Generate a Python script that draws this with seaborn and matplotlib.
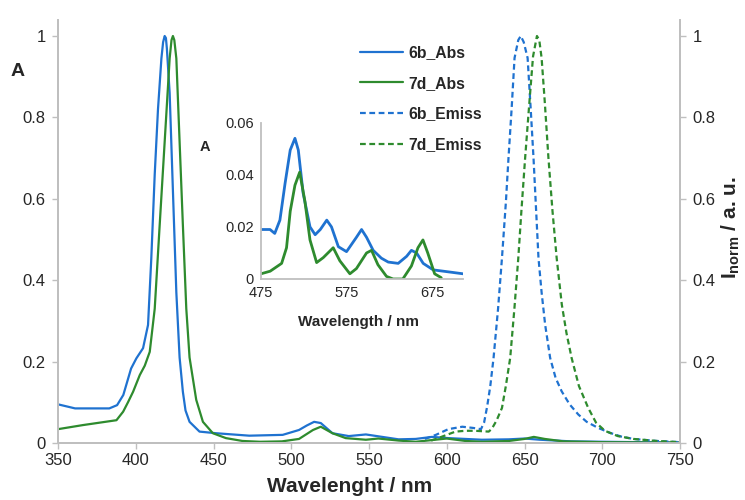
import matplotlib
matplotlib.use("Agg")
import matplotlib.pyplot as plt
import seaborn as sns
import pandas as pd

# ---------------- data ----------------
abs_6b_x = [350, 361, 383, 388, 392, 397, 400.4, 404.7, 407.9, 410, 412.2, 414.3, 416.5, 417.6,
            418.6, 419.4, 420, 421.8, 423.9, 426.1, 428.2, 430.3, 432, 434.6, 441, 451.7, 473,
            494.5, 505, 510, 514.7, 519, 526.5, 537, 548, 558.5, 569, 580, 590.5, 601, 622.6,
            640, 650, 660, 680, 700, 725, 750]
abs_6b_y = [0.095, 0.085, 0.085, 0.093, 0.118, 0.183, 0.208, 0.233, 0.29, 0.454, 0.66, 0.82, 0.945, 0.985,
            1.0, 0.995, 0.97, 0.86, 0.62, 0.37, 0.21, 0.126, 0.08, 0.052, 0.028, 0.024, 0.018,
            0.02, 0.032, 0.043, 0.052, 0.049, 0.024, 0.017, 0.021, 0.015, 0.009, 0.01, 0.015, 0.012, 0.008,
            0.009, 0.011, 0.008, 0.004, 0.003, 0.002, 0.001]

abs_7d_x = [350, 366, 387.6, 391.9, 395, 398.3, 402.6, 405.8, 409, 412.2, 415.4, 418.6, 421.8, 423,
            423.9, 424.8, 426.1, 428.2, 430.3, 432.5, 434.6, 438.9, 443.2, 449.6, 458, 468.6, 480,
            494, 505, 514, 519, 526.5, 535, 548, 556, 569, 580, 590, 600, 612, 623, 640, 650, 656,
            663, 675, 700, 750]
abs_7d_y = [0.034, 0.044, 0.056, 0.077, 0.1, 0.126, 0.167, 0.19, 0.224, 0.33, 0.536, 0.74, 0.945, 0.99,
            1.0, 0.99, 0.945, 0.74, 0.536, 0.33, 0.21, 0.106, 0.052, 0.024, 0.012, 0.005, 0.003,
            0.004, 0.01, 0.032, 0.04, 0.024, 0.012, 0.008, 0.011, 0.006, 0.003, 0.007, 0.011, 0.005, 0.003,
            0.005, 0.01, 0.015, 0.01, 0.004, 0.002, 0.001]

em_6b_x = [586, 593, 601, 610, 617, 622, 624, 626, 628, 630.1, 633, 635.5, 638, 639.7, 641.7, 643.6,
           646, 647.6, 649.5, 652, 654, 655.8, 659, 661, 663.3, 666.5, 670, 673.9, 679, 684.6, 690,
           697.4, 705, 712, 720, 735, 750]
em_6b_y = [0.01, 0.02, 0.034, 0.04, 0.037, 0.034, 0.05, 0.09, 0.14, 0.209, 0.33, 0.454, 0.59, 0.70, 0.82, 0.946,
           0.99, 1.0, 0.985, 0.946, 0.82, 0.70, 0.454, 0.37, 0.29, 0.209, 0.16, 0.127, 0.095, 0.07, 0.052,
           0.037, 0.025, 0.016, 0.01, 0.005, 0.002]

em_7d_x = [590, 593, 600, 605.6, 612, 618.4, 627, 629, 632, 635.5, 638, 640.8, 643.5, 646, 648, 650.4,
           653, 655.5, 658, 659.5, 661, 663, 665.4, 668, 670.7, 674, 677, 680.3, 685, 691, 696,
           701.7, 710, 720, 735, 750]
em_7d_y = [0.006, 0.01, 0.02, 0.028, 0.03, 0.03, 0.028, 0.035, 0.055, 0.086, 0.14, 0.209, 0.33, 0.454, 0.57, 0.70,
           0.83, 0.95, 1.0, 0.99, 0.946, 0.84, 0.70, 0.57, 0.454, 0.34, 0.27, 0.209, 0.14, 0.086, 0.05,
           0.03, 0.017, 0.01, 0.005, 0.002]

inset_6b_x = [475, 485.5, 491, 497, 503, 509, 514.5, 518.4, 524, 532, 538, 544, 551.5, 557, 565, 574.5,
              586, 592, 597.8, 605.5, 615, 623, 634.6, 644.4, 650, 656, 663.7, 675.3, 687, 698.6, 710]
inset_6b_y = [0.019, 0.019, 0.0175, 0.0226, 0.0367, 0.0495, 0.054, 0.0495, 0.033, 0.020, 0.017, 0.019,
              0.0226, 0.020, 0.0124, 0.0105, 0.016, 0.019, 0.016, 0.011, 0.008, 0.0065, 0.006, 0.0087,
              0.011, 0.010, 0.006, 0.0035, 0.003, 0.0025, 0.002]

inset_7d_x = [475, 485.7, 499, 504.7, 509, 514.5, 520, 526, 532, 539.7, 547.4, 559, 566.7, 578.4, 586,
              597.8, 603.6, 611, 621, 628.7, 640, 650, 657.6, 663.4, 669, 677, 684.7]
inset_7d_y = [0.002, 0.003, 0.006, 0.012, 0.026, 0.036, 0.041, 0.03, 0.015, 0.0063, 0.0082, 0.012, 0.007,
              0.002, 0.004, 0.010, 0.011, 0.0055, 0.001, 0.0, 0.0, 0.005, 0.012, 0.015, 0.01, 0.002, 0.0005]

main_xticks = [350, 400, 450, 500, 550, 600, 650, 700, 750]
main_yticks = [0, 0.2, 0.4, 0.6, 0.8, 1]
main_ytick_labels = ["0", "0.2", "0.4", "0.6", "0.8", "1"]
inset_xticks = [475, 575, 675]
inset_yticks = [0, 0.02, 0.04, 0.06]
inset_ytick_labels = ["0", "0.02", "0.04", "0.06"]

# ---------------- style ----------------
sns.set_theme(style="white")
plt.rcParams["font.family"] = ["Liberation Sans", "DejaVu Sans"]
plt.rcParams["mathtext.fontset"] = "custom"
plt.rcParams["mathtext.rm"] = "Liberation Sans"
plt.rcParams["mathtext.bf"] = "Liberation Sans:bold"
plt.rcParams["mathtext.it"] = "Liberation Sans:italic"

BLUE = "#1f72d0"
GREEN = "#2e8b2e"
GREY = "#bfbfbf"
TXT = "#262626"

fig = plt.figure(figsize=(7.45, 5.0), dpi=100)
W, H = 745, 500
L, R, B, T = 58, 680, 443, 20
ax = fig.add_axes([L / W, 1 - B / H, (R - L) / W, (B - T) / H])
ytop = (B - T) / (B - 36)

df_a6 = pd.DataFrame({"wl": abs_6b_x, "v": abs_6b_y})
df_a7 = pd.DataFrame({"wl": abs_7d_x, "v": abs_7d_y})
df_e6 = pd.DataFrame({"wl": em_6b_x, "v": em_6b_y})
df_e7 = pd.DataFrame({"wl": em_7d_x, "v": em_7d_y})

sns.lineplot(data=df_a6, x="wl", y="v", ax=ax, color=BLUE, lw=1.6, label="6b_Abs")
sns.lineplot(data=df_a7, x="wl", y="v", ax=ax, color=GREEN, lw=1.6, label="7d_Abs")

ax2 = ax.twinx()
sns.lineplot(data=df_e6, x="wl", y="v", ax=ax2, color=BLUE, lw=1.6,
             linestyle=(0, (2.6, 1.6)), label="6b_Emiss")
sns.lineplot(data=df_e7, x="wl", y="v", ax=ax2, color=GREEN, lw=1.6,
             linestyle=(0, (2.6, 1.6)), label="7d_Emiss")

for a in (ax, ax2):
    a.set_xlim(350, 750)
    a.set_ylim(0, ytop)
    a.set_xlabel("")
    a.set_ylabel("")
    a.spines["top"].set_visible(False)
    for s in ("left", "right", "bottom"):
        a.spines[s].set_color(GREY)
        a.spines[s].set_linewidth(1.3)
    a.tick_params(colors=GREY, labelcolor=TXT, length=4, width=1, labelsize=12)

ax.set_xticks(main_xticks)
ax.set_xticklabels([str(t) for t in main_xticks])
ax.set_yticks(main_yticks)
ax.set_yticklabels(main_ytick_labels)
ax.tick_params(axis="x", bottom=True, direction="out", pad=3)
ax.tick_params(axis="y", left=True, direction="out", pad=5)
ax2.set_yticks(main_yticks)
ax2.set_yticklabels(main_ytick_labels)
ax2.tick_params(axis="y", right=True, direction="out", pad=5)

# legend
h1, l1 = ax.get_legend_handles_labels()
h2, l2 = ax2.get_legend_handles_labels()
ax.get_legend().remove()
ax2.get_legend().remove()
leg = ax2.legend(h1 + h2, l1 + l2, loc="upper left",
                 bbox_to_anchor=(346 / W, 1 - 31 / H), bbox_transform=fig.transFigure,
                 frameon=False, handlelength=2.75, handletextpad=0.32, labelspacing=1.0,
                 prop={"weight": "bold", "size": 11.3})
for t in leg.get_texts():
    t.set_color(TXT)

fig.text(350 / W, 1 - 487 / H, "Wavelenght / nm", ha="center", va="center",
         fontsize=15, fontweight="bold", color=TXT)
fig.text(18 / W, 1 - 72 / H, "A", ha="center", va="center",
         fontsize=14, fontweight="bold", color=TXT)
fig.text(731 / W, 1 - 228 / H, r"$\mathbf{I_{norm}}$ / a. u.", ha="center", va="center",
         rotation=90, fontsize=15, fontweight="bold", color=TXT)

# inset
iL, iR, iB, iT = 261, 463, 279, 122.7
axin = fig.add_axes([iL / W, 1 - iB / H, (iR - iL) / W, (iB - iT) / H])
axin.patch.set_alpha(0)
df_i6 = pd.DataFrame({"wl": inset_6b_x, "v": inset_6b_y})
df_i7 = pd.DataFrame({"wl": inset_7d_x, "v": inset_7d_y})
sns.lineplot(data=df_i6, x="wl", y="v", ax=axin, color=BLUE, lw=2.0)
sns.lineplot(data=df_i7, x="wl", y="v", ax=axin, color=GREEN, lw=2.0)
axin.set_xlim(475, 710)
axin.set_ylim(0, 0.06)
axin.set_xticks(inset_xticks)
axin.set_xticklabels([str(t) for t in inset_xticks])
axin.set_yticks(inset_yticks)
axin.set_yticklabels(inset_ytick_labels)
axin.set_xlabel("")
axin.set_ylabel("")
for s in ("top", "right"):
    axin.spines[s].set_visible(False)
for s in ("left", "bottom"):
    axin.spines[s].set_color(GREY)
    axin.spines[s].set_linewidth(1.3)
axin.tick_params(colors=GREY, labelcolor=TXT, length=2, width=1, labelsize=10.5, pad=3)
fig.text(359 / W, 1 - 322 / H, "Wavelength / nm", ha="center", va="center",
         fontsize=11, fontweight="bold", color=TXT)
fig.text(205 / W, 1 - 147 / H, "A", ha="center", va="center",
         fontsize=10.5, fontweight="bold", color=TXT)

fig.savefig("out.png", dpi=100)
